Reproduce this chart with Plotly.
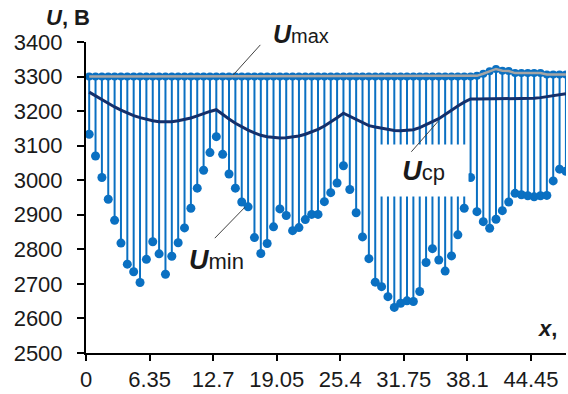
import plotly.graph_objects as go

# Voltage profile along the line: pitch between measuring points, mm
PITCH = 0.635

# Maximum voltage at each point, V
u_max = [3300] * 61 + [3302, 3308, 3315, 3322, 3317, 3316,
                       3310, 3310, 3310, 3310, 3310, 3306, 3306, 3306, 3306]

# Minimum voltage at each point, V
u_min = [3133, 3070, 3008, 2945, 2884, 2818, 2757, 2735, 2704, 2771,
         2822, 2787, 2728, 2780, 2819, 2862, 2919, 2977, 3029, 3080,
         3126, 3075, 3018, 2977, 2937, 2923, 2834, 2788, 2817, 2865,
         2917, 2898, 2854, 2863, 2886, 2901, 2901, 2938, 2964, 2992,
         3042, 2973, 2906, 2836, 2773, 2705, 2692, 2663, 2632, 2644,
         2651, 2649, 2678, 2762, 2802, 2769, 2737, 2781, 2842, 2919,
         3008, 2909, 2880, 2861, 2887, 2912, 2937, 2962, 2958, 2955,
         2952, 2955, 2956, 2998, 3032, 3026]

# Mean voltage at each point, V
u_mean = [3255, 3244, 3232, 3222, 3212, 3203, 3194, 3187, 3181, 3176,
          3172, 3169, 3168, 3169, 3172, 3175, 3180, 3186, 3193, 3199,
          3204, 3190, 3177, 3165, 3154, 3145, 3137, 3130, 3126, 3123,
          3122, 3123, 3125, 3128, 3133, 3139, 3147, 3157, 3168, 3181,
          3194, 3185, 3176, 3166, 3158, 3154, 3150, 3146, 3144, 3143,
          3144, 3146, 3152, 3160, 3169, 3178, 3190, 3203, 3215, 3226,
          3235, 3235, 3235, 3235, 3235, 3235, 3235, 3235, 3235, 3235,
          3237, 3239, 3242, 3245, 3247, 3250]

x_ticks = [0, 6.35, 12.7, 19.05, 25.4, 31.75, 38.1, 44.45]
x_tick_labels = ["0", "6.35", "12.7", "19.05", "25.4", "31.75", "38.1", "44.45"]
y_ticks = [2500, 2600, 2700, 2800, 2900, 3000, 3100, 3200, 3300, 3400]

x_pos = [round((k + 0.5) * PITCH, 4) for k in range(len(u_min))]

BLUE = "#0A70C2"
NAVY = "#14306B"
GREY = "#A5A5A5"
FONT = "Liberation Sans, Arial, sans-serif"
TXT = "#1A1A1A"

fig = go.Figure()

# vertical stems from Umax down to Umin
sx, sy = [], []
for xv, hi, lo in zip(x_pos, u_max, u_min):
    sx += [xv, xv, None]
    sy += [hi, lo, None]
fig.add_trace(go.Scatter(x=sx, y=sy, mode="lines",
                         line=dict(color=BLUE, width=2),
                         hoverinfo="skip", showlegend=False))

# Umin points
fig.add_trace(go.Scatter(x=x_pos, y=u_min, mode="markers",
                         marker=dict(color=BLUE, size=9),
                         name="Umin", showlegend=False))

# Umax points with the grey Umax line running through them
fig.add_trace(go.Scatter(x=x_pos, y=u_max, mode="markers",
                         marker=dict(color=BLUE, size=8),
                         name="Umax", showlegend=False))
fig.add_trace(go.Scatter(x=x_pos, y=u_max, mode="lines",
                         line=dict(color=GREY, width=2.5),
                         hoverinfo="skip", showlegend=False))

# mean voltage curve
fig.add_trace(go.Scatter(x=x_pos, y=u_mean, mode="lines",
                         line=dict(color=NAVY, width=3),
                         name="Ucp", showlegend=False))

axis_font = dict(family=FONT, size=22, color=TXT)

fig.update_layout(
    width=568, height=394,
    margin=dict(l=86, r=2, t=42, b=38),
    paper_bgcolor="white", plot_bgcolor="white",
    showlegend=False,
    xaxis=dict(range=[0, 47.95], tickmode="array", tickvals=x_ticks,
               ticktext=x_tick_labels, ticks="outside", ticklen=6,
               tickwidth=2, tickcolor="black", showline=True,
               linecolor="black", linewidth=2, showgrid=False,
               zeroline=False, tickfont=axis_font),
    yaxis=dict(range=[2500, 3400], tickmode="array", tickvals=y_ticks,
               ticks="outside", ticklen=7, tickwidth=2, tickcolor="black",
               showline=True, linecolor="black", linewidth=2,
               showgrid=False, zeroline=False, tickfont=axis_font,
               ticklabelstandoff=10),
    # companion axes carrying the inner half of the crossing tick marks
    xaxis2=dict(overlaying="x", anchor="y", side="bottom",
                range=[0, 47.95], tickmode="array", tickvals=x_ticks,
                ticks="inside", ticklen=6, tickwidth=2, tickcolor="black",
                showticklabels=False, showline=False, showgrid=False,
                zeroline=False),
    yaxis2=dict(overlaying="y", anchor="x", side="left",
                range=[2500, 3400], tickmode="array", tickvals=y_ticks,
                ticks="inside", ticklen=7, tickwidth=2, tickcolor="black",
                showticklabels=False, showline=False, showgrid=False,
                zeroline=False),
)

lbl = dict(family=FONT, color=TXT)

def sym(sub, big=26, small=21):
    return (f"<b><i><span style='font-size:{big}px'>U</span></i></b>"
            f"<span style='font-size:{small}px'>{sub}</span>")

annotations = [
    # axis titles
    dict(xref="paper", yref="paper", x=-0.038, y=1.078,
         text="<b><i>U</i>, В</b>", showarrow=False,
         font=dict(size=22, **lbl), xanchor="center", yanchor="middle"),
    dict(x=46.1, y=2572, text="<b><i>x</i>,</b>", showarrow=False,
         font=dict(size=22, **lbl), xanchor="center", yanchor="middle"),
    # series labels
    dict(x=21.45, xref="x", yref="paper", y=1.025, text=sym("max", 25, 20),
         showarrow=False, font=dict(size=20, **lbl),
         xanchor="center", yanchor="middle"),
    dict(x=13.06, y=2768, text=sym("min", 27, 22), showarrow=False,
         font=dict(size=22, **lbl), xanchor="center", yanchor="middle"),
    dict(x=33.69, y=3028, text=sym("ср", 27, 22), showarrow=False,
         font=dict(size=22, **lbl), xanchor="center", yanchor="middle",
         bgcolor="white", width=87, height=49),
]

# leader lines from labels to the curves
for hx, hy, tx, ty in [(14.72, 3305, 17.55, 3396),
                       (15.88, 2922, 12.72, 2828),
                       (35.19, 3171, 32.37, 3078)]:
    annotations.append(dict(x=hx, y=hy, ax=tx, ay=ty, axref="x", ayref="y",
                            text="", showarrow=True, arrowhead=0,
                            arrowwidth=1, arrowcolor="#404040"))

fig.update_layout(annotations=annotations)

fig.write_html("out.html")
